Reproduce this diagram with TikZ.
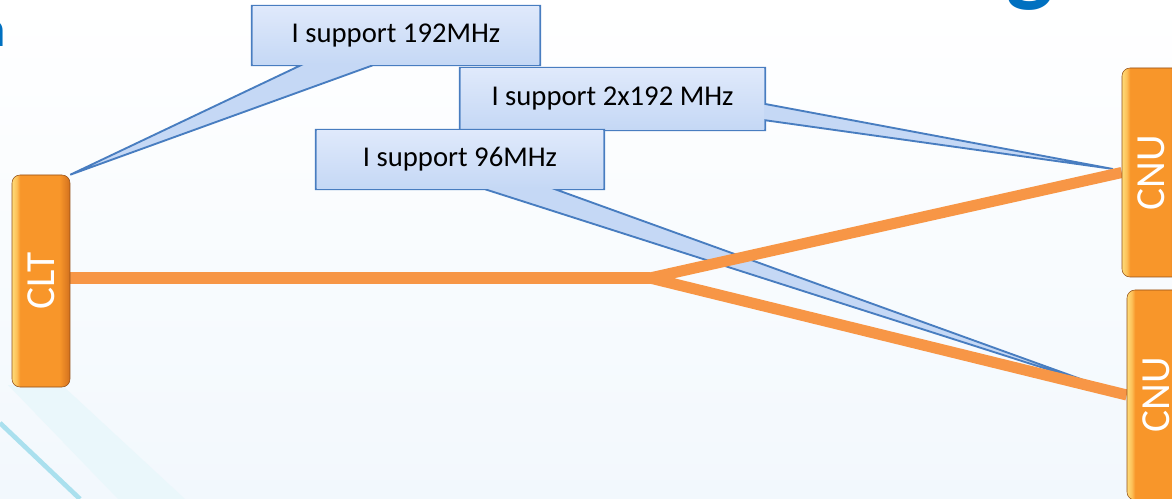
\documentclass[tikz,border=0pt]{standalone}
\usepackage{fontspec}
\setmainfont{Carlito}
\usepackage{tikz}
\usetikzlibrary{calc}

\definecolor{linkorange}{RGB}{247,150,70}
\definecolor{boxlight}{RGB}{255,220,120}
\definecolor{boxmid}{RGB}{248,150,42}
\definecolor{boxdark}{RGB}{210,112,30}
\definecolor{bubbletop}{RGB}{223,233,251}
\definecolor{bubblebot}{RGB}{197,216,245}
\definecolor{bubbleedge}{RGB}{72,125,192}
\definecolor{titleblue}{RGB}{0,112,192}
\definecolor{streak}{RGB}{170,224,238}
\definecolor{haze}{RGB}{242,248,253}

\pgfdeclarehorizontalshading{unitshade}{100bp}{color(0bp)=(boxlight); color(25bp)=(boxlight);
  color(29bp)=(boxlight!60!boxmid); color(32bp)=(boxmid); color(66bp)=(boxmid);
  color(75bp)=(boxdark); color(100bp)=(boxdark)}

\pgfdeclarelayer{backdrop}
\pgfdeclarelayer{bubbles}
\pgfdeclarelayer{links}
\pgfsetlayers{backdrop,bubbles,links,main}

\begin{document}
\begin{tikzpicture}[
    x=0.75pt, y=-0.75pt,
    unit/.style={rectangle, rounded corners=6pt, shading=unitshade,
                 draw=boxdark!70!black, line width=0.4pt, text=white,
                 font=\fontsize{31}{31}\selectfont, inner sep=0pt},
    bubble/.style={rectangle, inner sep=0pt, font=\fontsize{21.5}{26}\selectfont},
    bubble shape/.style={fill=bubblebot, draw=bubbleedge, line width=1.4pt},
    link/.style={draw=linkorange, line width=8.3pt}
]
    \useasboundingbox (0,0) rectangle (1172,499);

    % page backdrop
    \begin{pgfonlayer}{backdrop}
        \shade[top color=white, bottom color=haze] (0,0) rectangle (1172,499);
        \fill[streak!25] (8,385) -- (62,385) -- (185,499) -- (118,499) -- cycle;
        \draw[streak, line width=3.5pt] (0,423) -- (80,499);
    \end{pgfonlayer}

    % title letters cut by the page edge
    \node[font=\bfseries\fontsize{75}{75}\selectfont, text=titleblue, anchor=base] (titleg) at (1030,-6) {g};
    \node[font=\bfseries\fontsize{38}{38}\selectfont, text=titleblue, anchor=base east] (titlen) at (10,47) {n};

    % === Units ===
    \node[unit, minimum width=43.5pt, minimum height=159pt] (clt) at (41,281) {\rotatebox{90}{CLT}};
    \node[unit, minimum width=43.5pt, minimum height=156.75pt] (cnuA) at (1151,172.5) {\rotatebox{90}{CNU}};
    \node[unit, minimum width=43.5pt, minimum height=157.5pt] (cnuB) at (1156,395) {\rotatebox{90}{CNU}};

    % === Speech bubbles ===
    \node[bubble, minimum width=216pt, minimum height=44.25pt] (c192) at (396,35.5) {I support 192MHz};
    \node[bubble, minimum width=228.75pt, minimum height=46.5pt] (c384) at (612.5,99) {I support 2x192 MHz};
    \node[bubble, minimum width=216pt, minimum height=44.25pt] (c96) at (460,159.5) {I support 96MHz};
    \coordinate (tipA) at (1113,169);
    \coordinate (tipB) at (1100,386);

    \begin{pgfonlayer}{bubbles}
        \path[bubble shape] (c192.north west) -- (c192.north east) -- (c192.south east)
            -- ($(c192.south west)!0.42!(c192.south east)$) -- (clt.north east)
            -- ($(c192.south west)!0.17!(c192.south east)$) -- (c192.south west) -- cycle;
        \shade[top color=bubbletop, bottom color=bubblebot]
            ([shift={(1.2,1.2)}]c192.north west) rectangle ([shift={(-1.2,-1.2)}]c192.south east);

        \path[bubble shape] (c384.north west) -- (c384.north east)
            -- ($(c384.north east)!0.58!(c384.south east)$) -- (tipA)
            -- ($(c384.north east)!0.84!(c384.south east)$) -- (c384.south east)
            -- (c384.south west) -- cycle;
        \shade[top color=bubbletop, bottom color=bubblebot]
            ([shift={(1.2,1.2)}]c384.north west) rectangle ([shift={(-1.2,-1.2)}]c384.south east);

        \path[bubble shape] (c96.north west) -- (c96.north east) -- (c96.south east)
            -- ($(c96.south west)!0.83!(c96.south east)$) -- (tipB)
            -- ($(c96.south west)!0.587!(c96.south east)$) -- (c96.south west) -- cycle;
        \shade[top color=bubbletop, bottom color=bubblebot]
            ([shift={(1.2,1.2)}]c96.north west) rectangle ([shift={(-1.2,-1.2)}]c96.south east);
    \end{pgfonlayer}

    % === Links ===
    \coordinate (fork) at (650,278);
    \begin{pgfonlayer}{links}
        \draw[link] (fork -| clt.east) -- (fork);
        \draw[link] (cnuA.west) -- (fork) -- (cnuB.west);
    \end{pgfonlayer}

\end{tikzpicture}
\end{document}
